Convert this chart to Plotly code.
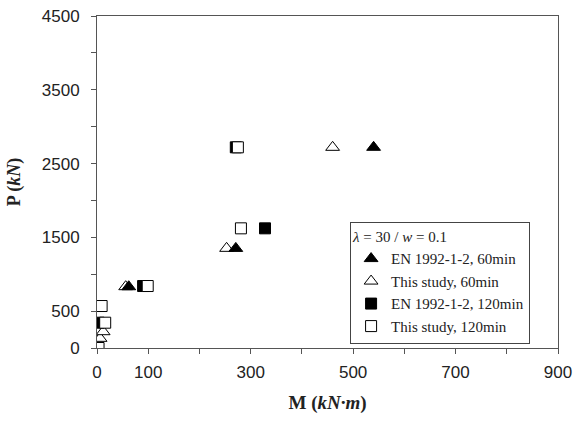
import plotly.graph_objects as go

# Data
en60_M = [62, 271, 540]
en60_P = [830, 1350, 2720]
ts60_M = [6, 12, 56, 253, 460]
ts60_P = [131, 221, 831, 1351, 2720]
en120_M = [3, 90, 328, 271]
en120_P = [343, 840, 1622, 2720]
ts120_M = [3, 9, 16, 99, 281, 275]
ts120_P = [0, 569, 343, 840, 1622, 2720]

y_tickvals = [0, 500, 1000, 1500, 2000, 2500, 3000, 3500, 4000, 4500]
y_ticktext = ["0", "500", "", "1500", "", "2500", "", "3500", "", "4500"]
x_tickvals = [0, 100, 200, 300, 400, 500, 600, 700, 800, 900]
x_ticktext = ["0", "100", "", "300", "", "500", "", "700", "", "900"]

tri = 12
sq = 11
fig = go.Figure()
fig.add_trace(go.Scatter(x=ts60_M, y=ts60_P, mode="markers", name="This study, 60min",
                         legendrank=2,
                         marker=dict(symbol="triangle-up", size=tri, color="white",
                                     line=dict(color="black", width=1))))
fig.add_trace(go.Scatter(x=en60_M, y=en60_P, mode="markers", name="EN 1992-1-2, 60min",
                         legendrank=1,
                         marker=dict(symbol="triangle-up", size=tri, color="black",
                                     line=dict(color="black", width=1))))
fig.add_trace(go.Scatter(x=en120_M, y=en120_P, mode="markers", name="EN 1992-1-2, 120min",
                         legendrank=3,
                         marker=dict(symbol="square", size=sq, color="black",
                                     line=dict(color="black", width=1))))
fig.add_trace(go.Scatter(x=ts120_M, y=ts120_P, mode="markers", name="This study, 120min",
                         legendrank=4,
                         marker=dict(symbol="square", size=sq, color="white",
                                     line=dict(color="black", width=1))))

axis_common = dict(showgrid=False, zeroline=False, showline=True, linecolor="#555",
                   linewidth=1, mirror=True, ticks="outside", ticklen=5, tickcolor="#555",
                   automargin=False,
                   tickfont=dict(family="Liberation Sans, Arial", size=17, color="#222"))

fig.update_xaxes(range=[0, 900], tickmode="array", tickvals=x_tickvals, ticktext=x_ticktext,
                 ticklabelstandoff=4,
                 title=dict(text="<b>M (<i>kN·m</i>)</b>", standoff=14,
                            font=dict(family="Liberation Serif, Times New Roman", size=19, color="#222")),
                 **axis_common)
fig.update_yaxes(range=[0, 4500], tickmode="array", tickvals=y_tickvals, ticktext=y_ticktext,
                 ticklabelstandoff=8,
                 title=dict(text="<b>P (<i>kN</i>)</b>", standoff=16,
                            font=dict(family="Liberation Serif, Times New Roman", size=18, color="#222")),
                 **axis_common)

fig.update_layout(
    width=576, height=421,
    margin=dict(l=97, r=18, t=16, b=73, autoexpand=False),
    paper_bgcolor="white", plot_bgcolor="white",
    showlegend=True,
    legend=dict(x=0.549, y=0.38, xanchor="left", yanchor="top",
                bordercolor="#444", borderwidth=1, bgcolor="white",
                title=dict(text="<i>λ</i> = 30 / <i>w</i> = 0.1",
                           font=dict(family="Liberation Serif, Times New Roman", size=15, color="#222")),
                font=dict(family="Liberation Serif, Times New Roman", size=15, color="#222"),
                tracegroupgap=0, itemwidth=30),
)

fig.write_html("out.html")
